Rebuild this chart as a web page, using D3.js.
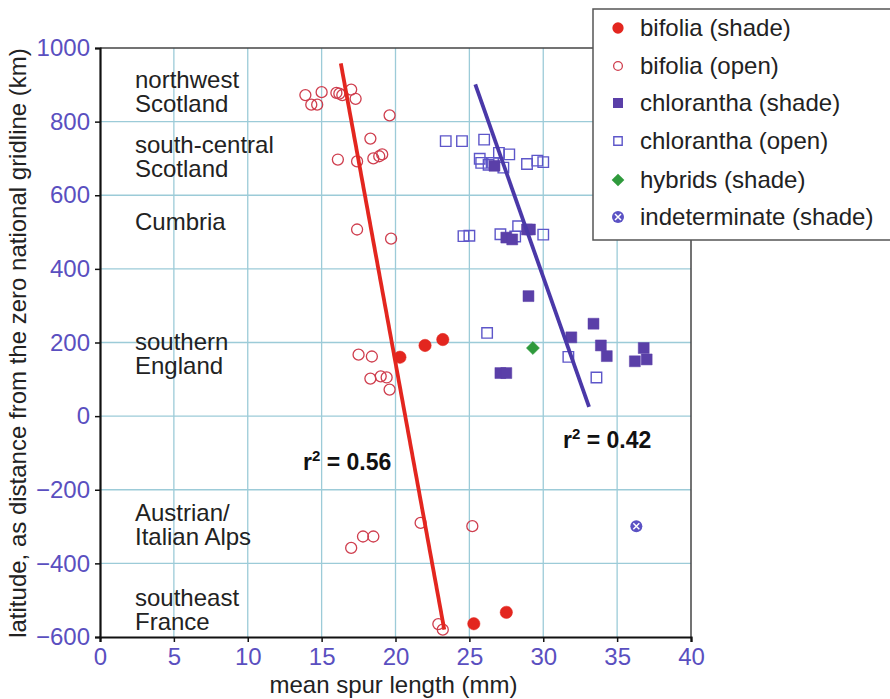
<!doctype html>
<html lang="en">
<head>
  <meta charset="utf-8">
  <title>Spur length vs latitude</title>
  <style>
    body { margin: 0; background: #fff; }
    text { font-family: "Liberation Sans", Arial, sans-serif; }
  </style>
</head>
<body>
<svg id="chart" width="890" height="699"></svg>

<script src="https://cdn.jsdelivr.net/npm/d3@7"></script>
<script>
    // mean spur length (mm), latitude (km from zero national gridline)
    var bifoliaShade = [
        [20.3, 160], [22.0, 192], [23.2, 208], [25.3, -564], [27.5, -533]
    ];
    var bifoliaOpen = [
        [13.9, 872], [14.3, 846], [14.7, 846], [15.0, 880], [16.0, 878], [16.2, 876],
        [16.4, 872], [17.0, 887], [17.3, 862], [19.6, 817], [18.3, 754], [16.1, 697],
        [17.4, 692], [18.5, 700], [18.9, 706], [19.1, 711], [17.4, 507], [19.7, 482],
        [17.5, 167], [18.4, 162], [18.3, 102], [19.0, 108], [19.4, 105], [19.6, 72],
        [17.0, -358], [17.8, -327], [18.5, -327], [21.7, -290], [25.2, -299],
        [22.9, -565], [23.2, -580]
    ];
    var chloranthaShade = [
        [26.7, 680], [27.5, 485], [27.9, 480], [28.9, 507], [29.1, 507], [29.0, 326],
        [27.1, 117], [27.5, 117], [31.9, 214], [33.4, 251], [33.9, 192], [34.3, 163],
        [36.2, 149], [36.8, 185], [37.0, 154]
    ];
    var chloranthaOpen = [
        [23.4, 747], [24.5, 747], [26.0, 751], [25.7, 699], [25.8, 688], [26.3, 683],
        [26.6, 688], [27.0, 715], [27.3, 675], [27.7, 711], [28.9, 685], [29.6, 694],
        [30.0, 690], [24.6, 489], [25.0, 490], [27.1, 494], [28.3, 516], [28.1, 488],
        [30.0, 493], [26.2, 226], [31.7, 161], [33.6, 105]
    ];
    var hybridsShade = [[29.3, 185]];
    var indeterminateShade = [[36.3, -299]];

    // fitted regression lines (end points)
    var bifoliaFit = [[16.3, 958], [23.3, -580]];
    var chloranthaFit = [[25.4, 901], [33.1, 25]];

    var xTicks = [0, 5, 10, 15, 20, 25, 30, 35, 40];
    var yTicks = [-600, -400, -200, 0, 200, 400, 600, 800, 1000];

    var regionNames = [
        ["northwest", "Scotland"],
        ["south-central", "Scotland"],
        ["Cumbria"],
        ["southern", "England"],
        ["Austrian/", "Italian Alps"],
        ["southeast", "France"]
    ];
    var regionY = [80, 145, 222, 342, 513, 598];

    var legendNames = ["bifolia (shade)", "bifolia (open)", "chlorantha (shade)",
                       "chlorantha (open)", "hybrids (shade)", "indeterminate (shade)"];

    var svg = d3.select("#chart");
    var pLeft = 100, pRight = 691, pTop = 48, pBottom = 637;

    var x = d3.scaleLinear().domain([0, 40]).range([pLeft, pRight]);
    var y = d3.scaleLinear().domain([-600, 1000]).range([pBottom, pTop]);

    var tickBlue = "#5a4fc0";
    var gridCol = "#9ccbd8";
    var red = "#e3261f";
    var redOpen = "#cf3e4e";
    var purple = "#5a3fa8";
    var purpleOpen = "#5d56c9";
    var green = "#2f9a3c";
    var fs = "24px";

    // grid
    svg.append("g").selectAll("line").data(xTicks.slice(1, -1)).enter().append("line")
        .attr("x1", d => x(d)).attr("x2", d => x(d))
        .attr("y1", pTop).attr("y2", pBottom)
        .attr("stroke", gridCol).attr("stroke-width", 1.3);
    svg.append("g").selectAll("line").data(yTicks.slice(1, -1)).enter().append("line")
        .attr("x1", pLeft).attr("x2", pRight)
        .attr("y1", d => y(d)).attr("y2", d => y(d))
        .attr("stroke", gridCol).attr("stroke-width", 1.3);

    // frame
    svg.append("line").attr("x1", pLeft).attr("x2", pRight).attr("y1", pTop).attr("y2", pTop)
        .attr("stroke", "#444").attr("stroke-width", 1.5);
    svg.append("line").attr("x1", pRight).attr("x2", pRight).attr("y1", pTop).attr("y2", pBottom)
        .attr("stroke", "#444").attr("stroke-width", 1.5);

    // axes
    var xAxis = d3.axisBottom(x).tickValues(xTicks).tickSize(5).tickPadding(6).tickFormat(d3.format("d"));
    var gx = svg.append("g").attr("transform", "translate(0," + pBottom + ")").call(xAxis);
    var yAxis = d3.axisLeft(y).tickValues(yTicks).tickSize(5).tickPadding(5).tickFormat(d3.format("d"));
    var gy = svg.append("g").attr("transform", "translate(" + pLeft + ",0)").call(yAxis);
    [gx, gy].forEach(function (g) {
        g.select(".domain").attr("stroke", "#111").attr("stroke-width", 2.2);
        g.selectAll(".tick line").attr("stroke", "#111").attr("stroke-width", 1.5);
        g.selectAll(".tick text").attr("fill", tickBlue)
            .style("font-family", "'Liberation Sans', Arial, sans-serif")
            .style("font-size", fs);
    });

    // axis titles
    svg.append("text").attr("x", (pLeft + pRight) / 2 - 2).attr("y", 693)
        .attr("text-anchor", "middle").attr("fill", "#222").style("font-size", fs)
        .text("mean spur length (mm)");
    svg.append("text").attr("transform", "translate(26,343) rotate(-90)")
        .attr("text-anchor", "middle").attr("fill", "#222").style("font-size", fs)
        .text("latitude, as distance from the zero national gridline (km)");

    // region labels
    regionNames.forEach(function (lines, i) {
        var t = svg.append("text").attr("x", 135).attr("y", regionY[i] + 8)
            .attr("fill", "#222").style("font-size", fs);
        lines.forEach(function (s, j) {
            t.append("tspan").attr("x", 135).attr("dy", j === 0 ? 0 : 23.5).text(s);
        });
    });

    var sym = function (type, size) { return d3.symbol().type(type).size(size)(); };

    function plot(data, type, size, fill, stroke, sw, rot) {
        svg.append("g").selectAll("path").data(data).enter().append("path")
            .attr("transform", d => "translate(" + x(d[0]) + "," + y(d[1]) + ")" + (rot ? " rotate(45)" : ""))
            .attr("d", sym(type, size))
            .attr("fill", fill).attr("stroke", stroke).attr("stroke-width", sw);
    }

    plot(bifoliaOpen, d3.symbolCircle, 95, "none", redOpen, 1.3);
    plot(chloranthaOpen, d3.symbolSquare, 110, "none", purpleOpen, 1.4);
    plot(chloranthaShade, d3.symbolSquare, 120, purple, purple, 0.5);
    plot(bifoliaShade, d3.symbolCircle, 120, red, red, 0.5);
    plot(hybridsShade, d3.symbolSquare, 85, green, green, 0.5, true);

    function indet(g, cx, cy, r) {
        g.append("circle").attr("cx", cx).attr("cy", cy).attr("r", r).attr("fill", "#5b52c4");
        var k = r * 0.5;
        g.append("path").attr("d", "M" + (cx - k) + "," + (cy - k) + "L" + (cx + k) + "," + (cy + k) +
            "M" + (cx + k) + "," + (cy - k) + "L" + (cx - k) + "," + (cy + k))
            .attr("stroke", "#fff").attr("stroke-width", 1.5);
    }
    indeterminateShade.forEach(d => indet(svg, x(d[0]), y(d[1]), 6));

    // regression lines
    var line = d3.line().x(d => x(d[0])).y(d => y(d[1]));
    svg.append("path").datum(bifoliaFit).attr("d", line)
        .attr("stroke", red).attr("stroke-width", 3.8).attr("fill", "none");
    svg.append("path").datum(chloranthaFit).attr("d", line)
        .attr("stroke", "#4a38a8").attr("stroke-width", 3.8).attr("fill", "none");

    // r-squared labels
    function rsq(px, py, val) {
        var t = svg.append("text").attr("x", px).attr("y", py)
            .style("font-size", "23px").style("font-weight", "bold").attr("fill", "#111");
        t.append("tspan").text("r");
        t.append("tspan").attr("dy", -9).style("font-size", "15px").text("2");
        t.append("tspan").attr("dy", 9).text(" = " + val);
    }
    rsq(303, 470, "0.56");
    rsq(563, 448, "0.42");

    // legend
    var lg = svg.append("g");
    lg.append("rect").attr("x", 593).attr("y", 9).attr("width", 310).attr("height", 231)
        .attr("fill", "#fff").attr("stroke", "#555").attr("stroke-width", 1.5);
    var legendY = [28, 66, 103, 141, 180, 217];
    legendNames.forEach(function (name, i) {
        var cy = legendY[i], cx = 618;
        var mk = lg.append("path").attr("transform", "translate(" + cx + "," + cy + ")");
        if (i === 0) mk.attr("d", sym(d3.symbolCircle, 100)).attr("fill", red);
        if (i === 1) mk.attr("d", sym(d3.symbolCircle, 60)).attr("fill", "none").attr("stroke", redOpen).attr("stroke-width", 1.3);
        if (i === 2) mk.attr("d", sym(d3.symbolSquare, 100)).attr("fill", purple);
        if (i === 3) mk.attr("d", sym(d3.symbolSquare, 70)).attr("fill", "none").attr("stroke", purpleOpen).attr("stroke-width", 1.4);
        if (i === 4) mk.attr("d", sym(d3.symbolSquare, 80)).attr("fill", green)
            .attr("transform", "translate(" + cx + "," + cy + ") rotate(45)");
        if (i === 5) { mk.remove(); indet(lg, cx, cy, 6); }
        lg.append("text").attr("x", 640).attr("y", cy + 8).attr("fill", "#222")
            .style("font-size", fs).text(name);
    });
</script>
</body>
</html>
